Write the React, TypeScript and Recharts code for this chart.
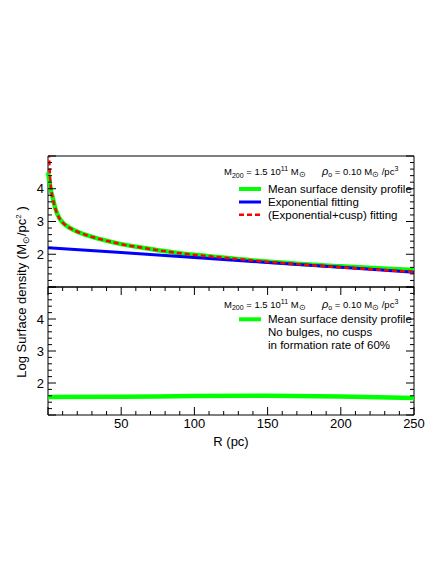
import React from 'react';
import { LineChart, Line, XAxis, YAxis, Legend, ReferenceArea } from 'recharts';

// mean surface density profile (top panel)
const radiusMean = [0, 1, 2, 3, 5, 7.5, 10, 12, 15, 19, 28, 35, 50, 70, 90, 110, 140, 170, 200, 225, 250];
const meanDensity = [4.5, 4.22, 3.95, 3.77, 3.4, 3.12, 2.97, 2.89, 2.8, 2.71, 2.56, 2.47, 2.31, 2.16, 2.03, 1.94, 1.81, 1.71, 1.63, 1.57, 1.52];

// (exponential + cusp) fit
const radiusCusp = [0.4, 1, 1.5, 2, 3, 5, 7.5, 10, 12, 15, 19, 28, 35, 50, 70, 90, 110, 140, 170, 200, 225, 250];
const cuspFit = [5.6, 4.7, 4.3, 4.02, 3.77, 3.4, 3.12, 2.97, 2.89, 2.8, 2.71, 2.56, 2.47, 2.31, 2.16, 2.03, 1.94, 1.81, 1.7, 1.6, 1.53, 1.46];

// exponential fit
const radiusExp = [0, 50, 100, 150, 200, 250];
const expFit = [2.2, 2.05, 1.9, 1.75, 1.6, 1.45];

// bottom panel: no bulges, no cusps
const radiusFlat = [0, 50, 100, 150, 200, 250];
const flatDensity = [1.56, 1.57, 1.59, 1.6, 1.58, 1.53];

const xTicks = [0, 10, 20, 30, 40, 50, 60, 70, 80, 90, 100, 110, 120, 130, 140, 150, 160, 170, 180, 190, 200, 210, 220, 230, 240, 250];
const xLabels = [50, 100, 150, 200, 250];
const yTicks = [1, 1.2, 1.4, 1.6, 1.8, 2, 2.2, 2.4, 2.6, 2.8, 3, 3.2, 3.4, 3.6, 3.8, 4, 4.2, 4.4, 4.6, 4.8, 5];
const yLabels = [2, 3, 4];

const zip = (xs: number[], ys: number[]) => xs.map((r, i) => ({ r, v: ys[i] }));

const meanData = zip(radiusMean, meanDensity);
const cuspData = zip(radiusCusp, cuspFit);
const expData = zip(radiusExp, expFit);
const flatData = zip(radiusFlat, flatDensity);

const FONT = '"Liberation Sans", Arial, Helvetica, sans-serif';
const LEFT = 48;
const RIGHT = 414;
const W = 436;

const GREEN = '#00ff00';
const BLUE = '#0000ff';
const RED = '#ff0000';

function XTick({ x, payload, top, bottom, showLabels }: any) {
  const v = payload.value;
  const len = v % 50 === 0 ? 8 : 4;
  return (
    <g>
      <line x1={x} x2={x} y1={bottom} y2={bottom - len} stroke="#000" />
      <line x1={x} x2={x} y1={top} y2={top + len} stroke="#000" />
      {showLabels && xLabels.includes(v) && (
        <text x={x} y={bottom + 13} textAnchor="middle" fontSize={13} fontFamily={FONT} fill="#000">
          {v}
        </text>
      )}
    </g>
  );
}

function YTick({ y, payload }: any) {
  const v = payload.value;
  const len = Number.isInteger(v) ? 8 : 4;
  return (
    <g>
      <line x1={LEFT} x2={LEFT + len} y1={y} y2={y} stroke="#000" />
      <line x1={RIGHT} x2={RIGHT - len} y1={y} y2={y} stroke="#000" />
      {yLabels.includes(v) && (
        <text x={LEFT - 4} y={y + 4.5} textAnchor="end" fontSize={13} fontFamily={FONT} fill="#000">
          {v}
        </text>
      )}
    </g>
  );
}

// header line: M200 = 1.5 10^11 Msun   rho0 = 0.10 Msun /pc^3
function Header({ y }: { y: number }) {
  return (
    <g fontFamily={FONT} fontSize={9.5} fill="#000">
      <text x={224} y={y}>
        M<tspan dy={2.5} fontSize={7}>200</tspan>
        <tspan dy={-2.5}> = 1.5 10</tspan>
        <tspan dy={-4} fontSize={7}>11</tspan>
        <tspan dy={4}> M</tspan>
        <tspan dy={2} fontSize={8}>⊙</tspan>
      </text>
      <text x={322} y={y}>
        <tspan fontStyle="italic" fontSize={11}>ρ</tspan>
        <tspan dy={2} fontSize={7}>o</tspan>
        <tspan dy={-2}> = 0.10 M</tspan>
        <tspan dy={2} fontSize={8}>⊙</tspan>
        <tspan dy={-2}> /pc</tspan>
        <tspan dy={-4} fontSize={7}>3</tspan>
      </text>
    </g>
  );
}

const topLegend = () => (
  <svg width={W} height={288} style={{ position: 'absolute', left: 0, top: 0, overflow: 'visible' }}>
    <Header y={175} />
    <g fontFamily={FONT} fontSize={11.5} fill="#000">
      <line x1={239} x2={261} y1={189} y2={189} stroke={GREEN} strokeWidth={4} />
      <text x={268} y={193}>Mean surface density profile</text>
      <line x1={239} x2={261} y1={202} y2={202} stroke={BLUE} strokeWidth={3} />
      <text x={268} y={206}>Exponential fitting</text>
      <line x1={239} x2={261} y1={214.7} y2={214.7} stroke={RED} strokeWidth={2.5} strokeDasharray="5 3" />
      <text x={268} y={218.7}>(Exponential+cusp) fitting</text>
    </g>
  </svg>
);

const BOTTOM_TOP = 286;

const bottomLegend = () => (
  <svg width={W} height={174} style={{ position: 'absolute', left: 0, top: 0, overflow: 'visible' }}>
    <g transform={`translate(0,${-BOTTOM_TOP})`}>
      <Header y={307.5} />
      <g fontFamily={FONT} fontSize={11.5} fill="#000">
        <line x1={239} x2={261} y1={319.3} y2={319.3} stroke={GREEN} strokeWidth={4} />
        <text x={268} y={323.3}>Mean surface density profile</text>
        <text x={268} y={336.3}>No bulges, no cusps</text>
        <text x={268} y={349}>in formation rate of 60%</text>
      </g>
    </g>
  </svg>
);

export default function App() {
  return (
    <div style={{ position: 'absolute', left: 0, top: 0, width: W, height: 577, background: '#fff', fontFamily: FONT }}>
      {/* top panel */}
      <div style={{ position: 'absolute', left: 0, top: 0 }}>
        <LineChart width={W} height={288} margin={{ top: 156, right: W - RIGHT, bottom: 1, left: 0 }}>
          <XAxis
            type="number"
            dataKey="r"
            domain={[0, 250]}
            ticks={xTicks}
            interval={0}
            height={0}
            axisLine={false}
            tickLine={false}
            tick={(p: any) => <XTick {...p} top={156} bottom={287} showLabels={false} />}
          />
          <YAxis
            type="number"
            dataKey="v"
            domain={[1, 5]}
            allowDataOverflow
            ticks={yTicks}
            interval={0}
            width={LEFT}
            axisLine={false}
            tickLine={false}
            tick={(p: any) => <YTick {...p} />}
          />
          <ReferenceArea x1={0} x2={250} y1={1} y2={5} fill="none" stroke="#000" strokeWidth={1} />
          <Line data={meanData} dataKey="v" type="monotone" stroke={GREEN} strokeWidth={4.5} dot={false} isAnimationActive={false} name="Mean surface density profile" />
          <Line data={expData} dataKey="v" type="linear" stroke={BLUE} strokeWidth={3} dot={false} isAnimationActive={false} name="Exponential fitting" />
          <Line data={cuspData} dataKey="v" type="monotone" stroke={RED} strokeWidth={2.5} strokeDasharray="5 3" dot={false} isAnimationActive={false} name="(Exponential+cusp) fitting" />
          <Legend layout="vertical" align="center" verticalAlign="middle" content={topLegend} wrapperStyle={{ left: 0, top: 0, width: W, height: 288 }} />
        </LineChart>
      </div>

      {/* bottom panel */}
      <div style={{ position: 'absolute', left: 0, top: BOTTOM_TOP }}>
        <LineChart width={W} height={174} margin={{ top: 1, right: W - RIGHT, bottom: 0, left: 0 }}>
          <XAxis
            type="number"
            dataKey="r"
            domain={[0, 250]}
            ticks={xTicks}
            interval={0}
            height={45}
            axisLine={false}
            tickLine={false}
            tick={(p: any) => <XTick {...p} top={1} bottom={129} showLabels />}
            label={{ value: 'R (pc)', position: 'insideBottom', offset: 14, fontSize: 13, fill: '#000' }}
          />
          <YAxis
            type="number"
            dataKey="v"
            domain={[1, 5]}
            allowDataOverflow
            ticks={yTicks}
            interval={0}
            width={LEFT}
            axisLine={false}
            tickLine={false}
            tick={(p: any) => <YTick {...p} />}
          />
          <ReferenceArea x1={0} x2={250} y1={1} y2={5} fill="none" stroke="#000" strokeWidth={1} />
          <Line data={flatData} dataKey="v" type="monotone" stroke={GREEN} strokeWidth={4.5} dot={false} isAnimationActive={false} name="Mean surface density profile" />
          <Legend layout="vertical" align="center" verticalAlign="middle" content={bottomLegend} wrapperStyle={{ left: 0, top: 0, width: W, height: 174 }} />
        </LineChart>
      </div>

      {/* shared y axis title */}
      <svg width={W} height={577} style={{ position: 'absolute', left: 0, top: 0, pointerEvents: 'none' }}>
        <text transform="translate(26,292) rotate(-90)" textAnchor="middle" fontSize={13} fontFamily={FONT} fill="#000">
          Log Surface density (M<tspan dy={3} fontSize={9}>⊙</tspan>
          <tspan dy={-3}>/pc</tspan>
          <tspan dy={-5} fontSize={8}>2</tspan>
          <tspan dy={5}>  )</tspan>
        </text>
      </svg>
    </div>
  );
}
